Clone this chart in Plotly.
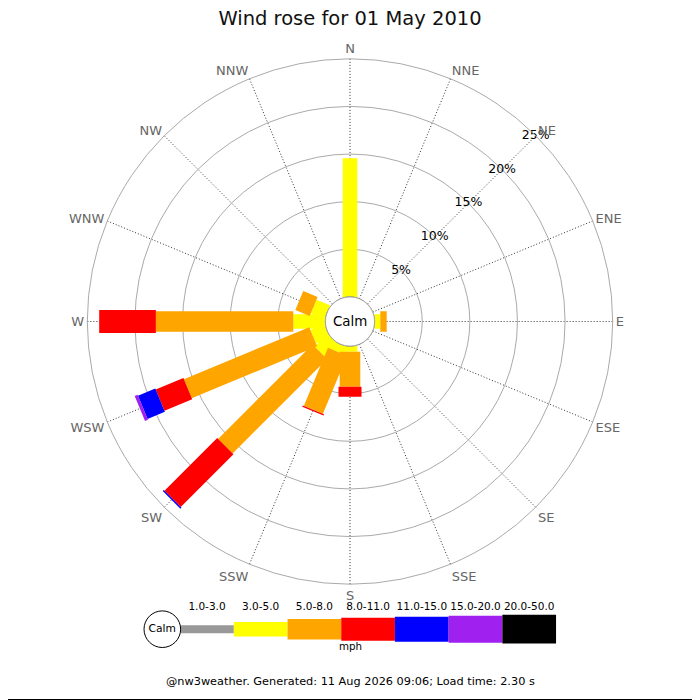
import math

import plotly.graph_objects as go

# --- data ------------------------------------------------------------------
DIRECTIONS = ["N", "NNE", "NE", "ENE", "E", "ESE", "SE", "SSE",
              "S", "SSW", "SW", "WSW", "W", "WNW", "NW", "NNW"]
DIRECTION_DEG = [0, 22.5, 45, 67.5, 90, 112.5, 135, 157.5,
                 180, 202.5, 225, 247.5, 270, 292.5, 315, 337.5]

SPEED_BINS = ["1.0-3.0", "3.0-5.0", "5.0-8.0", "8.0-11.0",
              "11.0-15.0", "15.0-20.0", "20.0-50.0"]

# percentage of time per direction (N ... NNW) for each speed bin
PCT_1_3 = [0, 0, 0, 0, 0, 0, 0, 0, 0, 0, 0, 0, 0, 0, 0, 0]
PCT_3_5 = [14.55, 0, 0, 0, 0.6, 0, 0, 0, 0.59, 0.85, 1.9, 1.6, 3.37, 1.55, 0, 0]
PCT_5_8 = [0, 0, 0, 0, 0.67, 0, 0, 0, 3.67, 6.6, 14.03, 14.25, 14.43, 1.63, 0, 0]
PCT_8_11 = [0, 0, 0, 0, 0, 0, 0, 0, 1.05, 0.15, 7.83, 3.15, 5.95, 0, 0, 0]
PCT_11_15 = [0, 0, 0, 0, 0, 0, 0, 0, 0, 0, 0.15, 1.97, 0, 0, 0, 0]
PCT_15_20 = [0, 0, 0, 0, 0, 0, 0, 0, 0, 0, 0, 0.33, 0, 0, 0, 0]
PCT_20_50 = [0, 0, 0, 0, 0, 0, 0, 0, 0, 0, 0, 0, 0, 0, 0, 0]

RING_VALUES = [5, 10, 15, 20, 25]

TITLE = "Wind rose for 01 May 2010"
FOOTER = "@nw3weather. Generated: 11 Aug 2026 09:06; Load time: 2.30 s"

# --- style -----------------------------------------------------------------
COLORS = ["#999999", "#ffff00", "#ffa500", "#ff0000", "#0000ff", "#a020f0", "#000000"]
BAR_WIDTH_PX = [8, 14.6, 20.6, 23, 25, 27, 28.7]

PAGE = 700
BODY_MARGIN = 8  # the html body offsets the plot div
FIG = PAGE - BODY_MARGIN

CX, CY = 350, 321.5
OUTER_R = 262.7
HOLE_R = 24.6
R_MAX = 25

hole = HOLE_R / OUTER_R
px_per_pct = (OUTER_R - HOLE_R) / R_MAX
offset = HOLE_R / px_per_pct  # hole radius expressed in % units


def px(x):
    return (x - BODY_MARGIN) / FIG


def py(y):
    return (PAGE - y) / FIG


def bar_polygon(theta0, r0, r1, width_px):
    # rectangle of constant pixel width along a spoke, expressed in polar coords
    w = width_px / 2 / px_per_pct
    rs, ts = [], []
    for a, s in ((r0 + offset, 1), (r1 + offset, 1), (r1 + offset, -1), (r0 + offset, -1), (r0 + offset, 1)):
        rs.append(math.hypot(a, w) - offset)
        ts.append(theta0 + s * math.degrees(math.atan2(w, a)))
    return rs, ts


def main() -> None:
    bins = [PCT_1_3, PCT_3_5, PCT_5_8, PCT_8_11, PCT_11_15, PCT_15_20, PCT_20_50]

    fig = go.Figure()

    base = [0.0] * len(DIRECTIONS)
    for values, color, width_px in zip(bins, COLORS, BAR_WIDTH_PX):
        r_all, t_all = [], []
        for i, v in enumerate(values):
            if v > 0:
                rs, ts = bar_polygon(DIRECTION_DEG[i], base[i], base[i] + v, width_px)
                r_all += rs + [None]
                t_all += ts + [None]
            base[i] += v
        if r_all:
            fig.add_trace(go.Scatterpolar(
                r=r_all, theta=t_all, mode="lines", fill="toself",
                fillcolor=color, line=dict(width=0, color=color),
                hoverinfo="skip", showlegend=False,
            ))

    # calm circle outline
    circle_theta = [k * 5 for k in range(73)]
    fig.add_trace(go.Scatterpolar(
        r=[0] * len(circle_theta), theta=circle_theta, mode="lines",
        line=dict(color="#777777", width=1), cliponaxis=False,
        hoverinfo="skip", showlegend=False,
    ))

    # ring labels along the NE spoke
    fig.add_trace(go.Scatterpolar(
        r=RING_VALUES, theta=[45] * len(RING_VALUES), mode="text",
        text=[f"{v}%" for v in RING_VALUES], textposition="middle center",
        textfont=dict(size=12.5, color="#000000"), cliponaxis=False,
        hoverinfo="skip", showlegend=False,
    ))

    # legend strip underneath
    leg_x = list(range(len(SPEED_BINS)))
    fig.add_trace(go.Bar(
        x=leg_x, y=BAR_WIDTH_PX, base=[-w / 2 for w in BAR_WIDTH_PX], width=1.0,
        marker=dict(color=COLORS, line=dict(width=0)),
        xaxis="x", yaxis="y", hoverinfo="skip", showlegend=False,
    ))
    fig.add_trace(go.Scatter(
        x=leg_x, y=[22.2] * len(SPEED_BINS), mode="text", text=SPEED_BINS,
        textposition="middle center", textfont=dict(size=10.5, color="#000000"),
        xaxis="x", yaxis="y", hoverinfo="skip", showlegend=False,
    ))
    fig.add_trace(go.Scatter(
        x=[-0.832], y=[0], mode="markers+text", text=["Calm"],
        textposition="middle center", textfont=dict(size=10.7, color="#000000"),
        marker=dict(size=36.6, color="#ffffff", line=dict(color="#000000", width=1)),
        xaxis="x", yaxis="y", hoverinfo="skip", showlegend=False, cliponaxis=False,
    ))

    seg_px = 53.7
    leg_center_px = 207
    leg_left, leg_right = 140, 560
    leg_top, leg_bottom = 599.2, 659.2

    fig.update_layout(
        width=FIG, height=FIG,
        margin=dict(l=0, r=0, t=0, b=0),
        paper_bgcolor="#ffffff", plot_bgcolor="#ffffff",
        font=dict(family="DejaVu Sans", color="#000000"),
        title=dict(text=TITLE, x=px(350), xanchor="center", y=py(18), yanchor="middle",
                   font=dict(size=19.5, color="#111111")),
        polar=dict(
            domain=dict(x=[px(CX - OUTER_R), px(CX + OUTER_R)],
                        y=[py(CY + OUTER_R), py(CY - OUTER_R)]),
            hole=hole,
            bgcolor="#ffffff",
            radialaxis=dict(range=[0, R_MAX], tickvals=RING_VALUES, showticklabels=False,
                            ticks="", showline=False, gridcolor="#aaaaaa", gridwidth=1, angle=45),
            angularaxis=dict(rotation=90, direction="clockwise", tickmode="array",
                             tickvals=DIRECTION_DEG, ticktext=DIRECTIONS, ticks="",
                             tickfont=dict(size=13, color="#666666"),
                             showline=True, linecolor="#aaaaaa", linewidth=1,
                             gridcolor="#333333", gridwidth=1, griddash="1px,2px"),
        ),
        xaxis=dict(domain=[px(leg_left), px(leg_right)],
                   range=[(leg_left - leg_center_px) / seg_px, (leg_right - leg_center_px) / seg_px],
                   visible=False, fixedrange=True),
        yaxis=dict(domain=[py(leg_bottom), py(leg_top)], range=[-30, 30],
                   visible=False, fixedrange=True),
        annotations=[
            dict(text="Calm", x=px(CX), y=py(CY), xref="paper", yref="paper",
                 showarrow=False, font=dict(size=13.4, color="#000000")),
            dict(text="mph", x=px(350), y=py(654), xref="paper", yref="paper",
                 showarrow=False, font=dict(size=10.3, color="#000000")),
            dict(text=FOOTER, x=px(350), y=py(690), xref="paper", yref="paper",
                 showarrow=False, font=dict(size=11.3, color="#000000")),
        ],
        shapes=[
            dict(type="line", xref="paper", yref="paper", x0=px(699.5), x1=px(699.5), y0=0, y1=1,
                 line=dict(color="#000000", width=1)),
            dict(type="line", xref="paper", yref="paper", x0=0, x1=1, y0=py(699.5), y1=py(699.5),
                 line=dict(color="#000000", width=1)),
        ],
    )

    fig.write_html("out.html")


if __name__ == "__main__":
    main()
